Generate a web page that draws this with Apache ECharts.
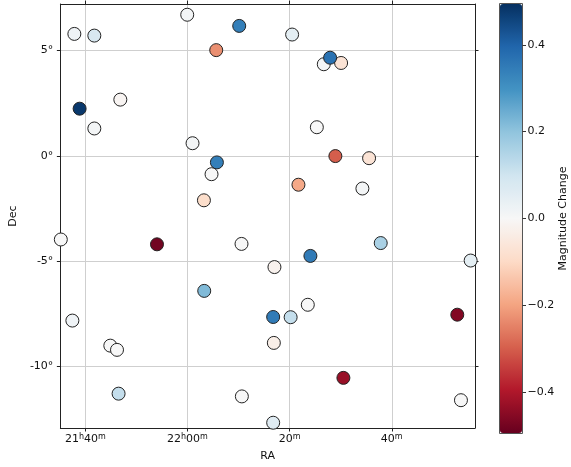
<!DOCTYPE html>
<html>
<head>
<meta charset="utf-8">
<script src="https://cdn.jsdelivr.net/npm/echarts@6/dist/echarts.min.js"></script>
<style>html,body{margin:0;padding:0;background:#fff}#c{width:571px;height:467px}</style>
</head>
<body>
<div id="c"></div>
<script>
// RA in minutes after 21h00m, Dec in degrees, magnitude change
const raMinutes = [37.85, 41.76, 59.95, 65.63, 38.88, 46.85, 41.76, 60.99, 65.76, 64.71,
  63.22, 35.2, 80.49, 86.69, 90.08, 87.93, 85.33, 88.96, 95.56, 81.73,
  94.25, 54.03, 70.58, 77.03, 63.28, 37.46, 76.78, 80.20, 44.89, 46.20,
  76.91, 46.51, 70.65, 76.78, 78.93, 97.84, 84.07, 115.45, 83.56, 112.83,
  90.53, 113.55, 70.13];
const decDeg = [5.79, 5.71, 6.70, 5.02, 2.24, 2.67, 1.30, 0.60, -0.31, -0.87,
  -2.11, -3.97, 5.76, 4.35, 4.41, 4.66, 1.36, -0.01, -0.11, -1.37,
  -1.55, -4.20, -4.18, -5.28, -6.41, -7.82, -7.65, -7.66, -9.01, -9.21,
  -8.88, -11.29, -11.42, -12.67, -13.20, -4.14, -4.75, -4.97, -7.07, -7.54,
  -10.54, -11.60, 6.17];
const magChange = [0.02, 0.08, 0.01, -0.23, 0.48, -0.01, 0.01, 0.01, 0.34, 0.0,
  -0.09, 0.0, 0.05, 0.01, -0.07, 0.37, 0.0, -0.30, -0.07, -0.19,
  0.01, -0.48, 0.0, -0.02, 0.22, 0.02, 0.35, 0.12, 0.0, 0.0,
  -0.03, 0.12, 0.0, 0.06, 0.0, 0.16, 0.35, 0.05, 0.0, -0.46,
  -0.43, 0.0, 0.34];

const raTickValues = [40, 60, 80, 100];
const raTickHours = ['21', '22', '', ''];
const raTickMins = ['40', '00', '20', '40'];
const decTickValues = [-10, -5, 0, 5];
const decTickLabels = ['-10\u00B0', '-5\u00B0', '0\u00B0', '5\u00B0'];
const cbarTickValues = [-0.4, -0.2, 0, 0.2, 0.4];

const raMin = 35.11, raMax = 116.30, decMin = -12.92, decMax = 7.21;
const cMin = -0.495, cMax = 0.495;
const rdbu = ['#67001f', '#b2182b', '#d6604d', '#f4a582', '#fddbc7', '#f7f7f7',
  '#d1e5f0', '#92c5de', '#4393c3', '#2166ac', '#053061'];

const points = raMinutes.map((r, i) => [r, decDeg[i], magChange[i]]);
const FONT = 'DejaVu Sans';
const frameColor = '#222';
const txtColor = '#111';

function raLabel(v) {
  const i = raTickValues.indexOf(Math.round(v));
  if (i < 0) return '';
  let s = '';
  if (raTickHours[i]) s += '{d|' + raTickHours[i] + '}{s|h}';
  s += '{d|' + raTickMins[i] + '}{s|m}';
  return s;
}

const chart = echarts.init(document.getElementById('c'), null, {renderer: 'canvas'});
chart.setOption({
  animation: false,
  textStyle: {fontFamily: FONT},
  grid: [
    {left: 60, top: 4, width: 415, height: 429, show: false},
    {left: 499.5, top: 3.5, width: 23, height: 430, show: true, borderColor: '#555', borderWidth: 1, backgroundColor: 'transparent'}
  ],
  xAxis: [
    {type: 'value', gridIndex: 0, position: 'bottom', min: raMin, max: raMax,
     name: 'RA', nameLocation: 'middle', nameGap: 23,
     nameTextStyle: {fontFamily: FONT, fontSize: 11, color: txtColor},
     axisLine: {show: true, onZero: false, lineStyle: {color: frameColor, width: 1}},
     axisTick: {show: true, inside: false, length: 3.5, customValues: raTickValues, lineStyle: {color: frameColor}},
     axisLabel: {customValues: raTickValues, margin: 5, fontFamily: FONT, fontSize: 11, color: txtColor,
       formatter: raLabel,
       rich: {
         d: {fontFamily: FONT, fontSize: 11, lineHeight: 13, color: txtColor},
         s: {fontFamily: FONT, fontSize: 8, lineHeight: 8, verticalAlign: 'top', color: txtColor}
       }},
     splitLine: {show: true, lineStyle: {color: '#cfcfcf', width: 1}}},
    {type: 'value', gridIndex: 0, position: 'top', min: raMin, max: raMax,
     axisLine: {show: true, onZero: false, lineStyle: {color: frameColor, width: 1}},
     axisTick: {show: true, inside: false, length: 3.5, customValues: raTickValues, lineStyle: {color: frameColor}},
     axisLabel: {show: false}, splitLine: {show: false}},
    {type: 'value', gridIndex: 1, min: 0, max: 1, show: false}
  ],
  yAxis: [
    {type: 'value', gridIndex: 0, position: 'left', min: decMin, max: decMax,
     name: 'Dec', nameLocation: 'middle', nameGap: 32, nameRotate: 90,
     nameTextStyle: {fontFamily: FONT, fontSize: 11, color: txtColor},
     axisLine: {show: true, onZero: false, lineStyle: {color: frameColor, width: 1}},
     axisTick: {show: true, inside: false, length: 3.5, customValues: decTickValues, lineStyle: {color: frameColor}},
     axisLabel: {customValues: decTickValues, margin: 7, fontFamily: FONT, fontSize: 11, color: txtColor,
       formatter: v => decTickLabels[decTickValues.indexOf(Math.round(v))] || ''},
     splitLine: {show: true, lineStyle: {color: '#cfcfcf', width: 1}}},
    {type: 'value', gridIndex: 0, position: 'right', min: decMin, max: decMax,
     axisLine: {show: true, onZero: false, lineStyle: {color: frameColor, width: 1}},
     axisTick: {show: true, inside: false, length: 3.5, customValues: decTickValues, lineStyle: {color: frameColor}},
     axisLabel: {show: false}, splitLine: {show: false}},
    {type: 'value', gridIndex: 1, position: 'right', min: cMin, max: cMax,
     name: 'Magnitude Change', nameLocation: 'middle', nameGap: 34, nameRotate: 90,
     nameTextStyle: {fontFamily: FONT, fontSize: 11, color: txtColor},
     axisLine: {show: false, onZero: false},
     axisTick: {show: true, inside: false, length: 3.5, customValues: cbarTickValues, lineStyle: {color: '#333'}},
     axisLabel: {customValues: cbarTickValues, margin: 5, fontFamily: FONT, fontSize: 11, color: txtColor,
       formatter: v => v.toFixed(1).replace('-', '\u2212')},
     splitLine: {show: false}}
  ],
  visualMap: {
    type: 'continuous', min: cMin, max: cMax, seriesIndex: 0, dimension: 2,
    orient: 'vertical', left: 500, top: 4, itemWidth: 22, itemHeight: 429, padding: 0,
    calculable: false, realtime: false, hoverLink: false, text: null, showLabel: false,
    inRange: {color: rdbu}
  },
  series: [{
    type: 'scatter', xAxisIndex: 0, yAxisIndex: 0, data: points,
    symbol: 'circle', symbolSize: 13, clip: true,
    itemStyle: {borderColor: '#222', borderWidth: 1, opacity: 1},
    emphasis: {disabled: true}
  }]
});
</script>
</body>
</html>
